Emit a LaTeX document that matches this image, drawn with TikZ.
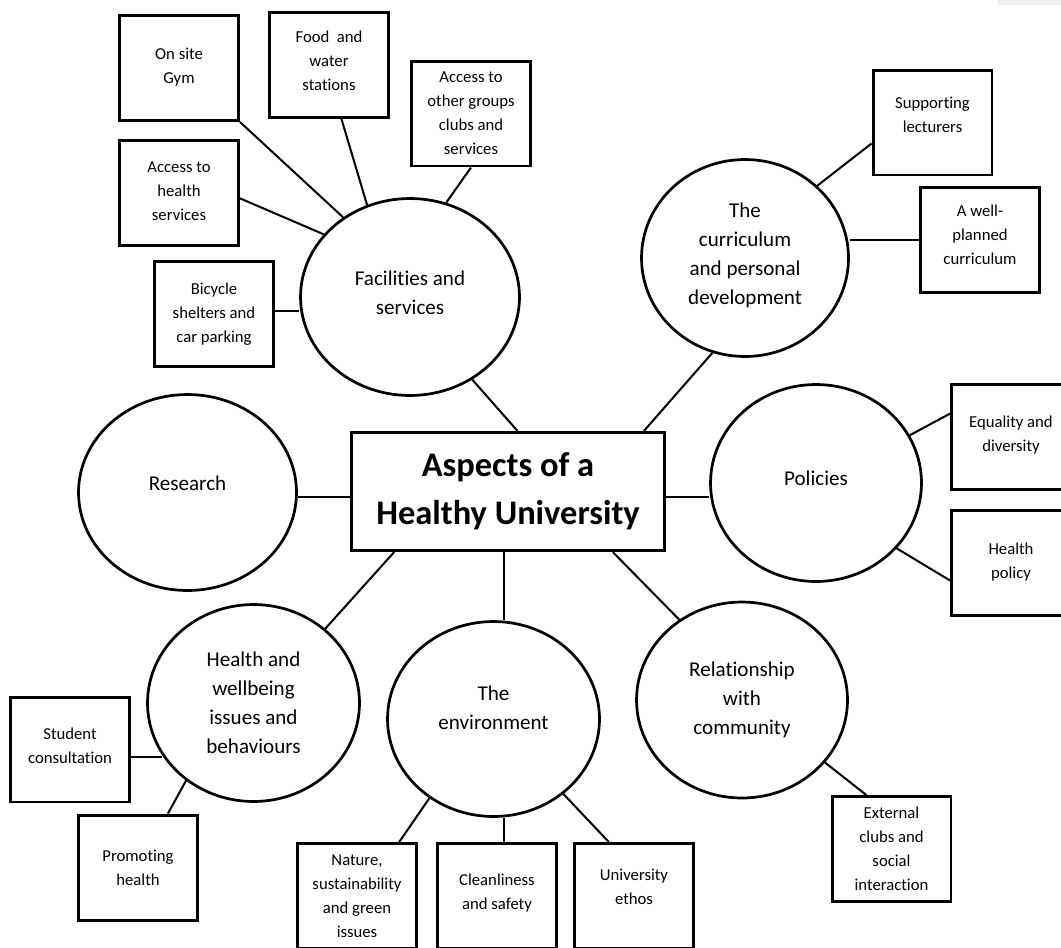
\documentclass[tikz,border=0pt]{standalone}
\usepackage{fontspec}
\setmainfont{Carlito}[Ligatures={NoCommon}]
\usetikzlibrary{shapes.geometric}

\begin{document}
\begin{tikzpicture}[x=0.02cm, y=-0.02cm,
    leaf/.style={draw, line width=1.7pt, minimum width=2.38cm, minimum height=2.1cm,
        align=center, font=\fontsize{9.5}{13.7}\selectfont},
    topic/.style={draw, ellipse, line width=1.55pt, align=center, inner sep=1pt,
        font=\fontsize{12}{16.5}\selectfont},
    hub/.style={draw, line width=1.7pt, minimum width=6.26cm, minimum height=2.36cm,
        align=center, font=\fontsize{19.6}{27.3}\selectfont\bfseries},
    lift/.style={execute at end node={\rule[-#1]{0pt}{0pt}}},
    link/.style={line width=1.15pt}]
\useasboundingbox (0,0) rectangle (1061,947);
\fill[black!6] (998,0) rectangle (1061,5);

\node[hub] (hub) at (508,491.5) {Aspects of a\\Healthy University};

\node[topic, lift=0.16cm, minimum width=4.38cm, minimum height=3.94cm] (fac) at (410,297) {Facilities and\\services};
\node[topic, lift=0.36cm, minimum width=4.36cm, minimum height=3.92cm] (res) at (187.5,492.5) {Research};
\node[topic, lift=0.16cm, minimum width=4.14cm, minimum height=3.94cm] (curr) at (745,258) {The\\curriculum\\and personal\\development};
\node[topic, lift=0.2cm, minimum width=4.22cm, minimum height=3.94cm] (pol) at (816,483) {Policies};
\node[topic, minimum width=4.24cm, minimum height=3.94cm] (hw) at (253.5,703) {Health and\\wellbeing\\issues and\\behaviours};
\node[topic, lift=0.44cm, minimum width=4.24cm, minimum height=3.90cm] (env) at (493.5,719) {The\\environment};
\node[topic, minimum width=4.22cm, minimum height=3.92cm] (rel) at (742,700) {Relationship\\with\\community};

\node[leaf, lift=0.08cm] (gym) at (179,68) {On site\\Gym};
\node[leaf, lift=0.18cm] (food) at (329,65) {Food~ and\\water\\stations};
\node[leaf] (other) at (471,113.5) {Access to\\other groups\\clubs and\\services};
\node[leaf, lift=0.06cm] (hserv) at (179,193) {Access to\\health\\services};
\node[leaf] (bike) at (214,314) {Bicycle\\shelters and\\car parking};
\node[leaf, lift=0.32cm] (sup) at (932.5,122.5) {Supporting\\lecturers};
\node[leaf, lift=0.22cm] (plan) at (980,240) {A well-\\planned\\curriculum};
\node[leaf, lift=0.14cm] (eq) at (1011,437) {Equality and\\diversity};
\node[leaf, lift=0.1cm] (hpol) at (1011,563) {Health\\policy};
\node[leaf, lift=0.16cm] (stud) at (70,749.5) {Student\\consultation};
\node[leaf] (prom) at (138,867.5) {Promoting\\health};
\node[leaf] (nat) at (357,896) {Nature,\\sustainability\\and green\\issues};
\node[leaf, lift=0.16cm] (clean) at (497,896) {Cleanliness\\and safety};
\node[leaf, lift=0.36cm] (eth) at (634,896) {University\\ethos};
\node[leaf] (ext) at (891.5,849) {External\\clubs and\\social\\interaction};

\draw[link] (fac.-53) -- (hub.81);
\draw[link] (curr.-109) -- (hub.24);
\draw[link] (hub.182) -- (hub.182 -| res.east);
\draw[link] (hub.-2) -- (hub.-2 -| pol.west);
\draw[link] (hw.46) -- (hub.208);
\draw[link] (hub.-94) -- (hub.-94 |- env.north);
\draw[link] (rel.128) -- (hub.-30);

\draw[link] (gym.south east) -- (fac.130);
\draw[link] (food.-77) -- (fac.115);
\draw[link] (other.south) -- (fac.69);
\draw[link] (hserv.-5) -- (fac.144);
\draw[link] (bike.3) -- (bike.3 -| fac.west);
\draw[link] (sup.199) -- (curr.45);
\draw[link] (plan.west) -- (plan.west -| curr.east);
\draw[link] (eq.159) -- (pol.27);
\draw[link] (hpol.196) -- (pol.-39);
\draw[link] (stud.-7) -- (stud.-7 -| hw.210);
\draw[link] (prom.61) -- (hw.229);
\draw[link] (nat.52) -- (env.231);
\draw[link] (clean.83) -- (clean.83 |- env.south);
\draw[link] (eth.115) -- (env.-47);
\draw[link] (ext.115) -- (rel.-37);
\end{tikzpicture}
\end{document}
